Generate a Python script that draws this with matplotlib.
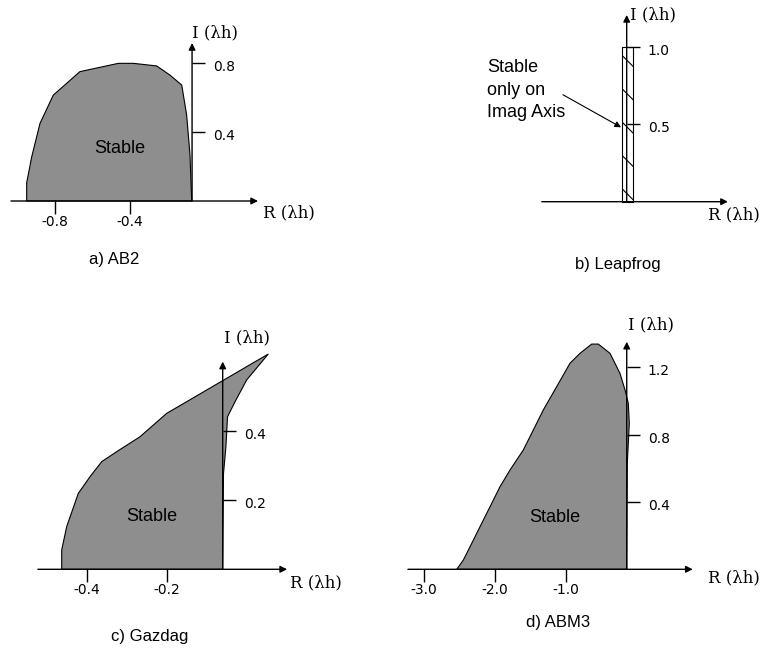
import matplotlib
matplotlib.use("Agg")
import matplotlib.pyplot as plt

plt.rcParams['font.family'] = ['Liberation Sans', 'DejaVu Sans']
plt.rcParams['hatch.linewidth'] = 0.8

W, H = 765, 651

# a) AB2 stability boundary (real, imag)
ab2_re = [-0.951, -0.951, -0.924, -0.88, -0.809, -0.667, -0.462, -0.382, -0.258,
          -0.187, -0.124, -0.098, -0.08, -0.071]
ab2_im = [0.0, 0.106, 0.257, 0.45, 0.614, 0.75, 0.798, 0.798, 0.783,
          0.73, 0.672, 0.499, 0.267, 0.0]
ab2_axis = -0.069
ab2_xticks = [-0.8, -0.4]
ab2_yticks = [0.4, 0.8]

# b) Leapfrog: stable only on imaginary axis
lf_band = [-0.025, 0.035]
lf_top = 1.0
lf_yticks = [0.5, 1.0]

# c) Gazdag
gz_re = [-0.4625, -0.4625, -0.45, -0.421, -0.392, -0.3625, -0.325, -0.267, -0.2,
         0.054, 0.0, -0.029, -0.048, -0.052, -0.058, -0.06]
gz_im = [0.0, 0.056, 0.124, 0.22, 0.268, 0.312, 0.341, 0.384, 0.452,
         0.624, 0.549, 0.486, 0.442, 0.355, 0.278, 0.0]
gz_axis = -0.06
gz_xticks = [-0.4, -0.2]
gz_yticks = [0.2, 0.4]

# d) ABM3
abm_re = [-2.535, -2.442, -2.348, -2.208, -2.067, -1.927, -1.787, -1.6, -1.459,
          -1.319, -1.131, -0.944, -0.803, -0.639, -0.546, -0.382, -0.242, -0.171,
          -0.125, -0.111, -0.139, -0.147]
abm_im = [0.0, 0.055, 0.134, 0.253, 0.372, 0.491, 0.59, 0.709, 0.828,
          0.947, 1.086, 1.225, 1.284, 1.339, 1.339, 1.284, 1.165, 1.066,
          0.987, 0.868, 0.63, 0.0]
abm_axis = -0.147
abm_xticks = [-3.0, -2.0, -1.0]
abm_yticks = [0.4, 0.8, 1.2]

FILL = '#8e8e8e'
SERIF = ['DejaVu Serif']
TICKFONT = ['DejaVu Sans']

fig = plt.figure(figsize=(W / 100, H / 100), dpi=100)


def make_axes(box, ox, sx, oy, sy):
    # box = (left, right, top, bottom) in pixels; origin/scale in pixels
    L, R, T, B = box
    ax = fig.add_axes([L / W, 1 - B / H, (R - L) / W, (B - T) / H])
    ax.set_xlim((L - ox) / sx, (R - ox) / sx)
    ax.set_ylim((oy - B) / sy, (oy - T) / sy)
    ax.axis('off')
    return ax


def arrow_axes(ax, xspan, xaxis, ytop):
    for start, end in [((xspan[0], 0), (xspan[1], 0)), ((xaxis, 0), (xaxis, ytop))]:
        ax.annotate('', xy=end, xytext=start,
                    arrowprops=dict(arrowstyle='-|>', color='black', lw=1,
                                    mutation_scale=10, shrinkA=0, shrinkB=0))


def ticks(ax, xaxis, xt, yt):
    if xt:
        ax.plot(xt, [0] * len(xt), ls='', marker=3, ms=9, mew=1, color='black')
        for v in xt:
            ax.annotate('{:.1f}'.format(v), (v, 0), xytext=(0, -21), textcoords='offset pixels',
                        ha='center', va='center', fontsize=10, family=TICKFONT)
    ax.plot([xaxis] * len(yt), yt, ls='', marker=1, ms=9, mew=1, color='black')
    for v in yt:
        ax.annotate('{:.1f}'.format(v), (xaxis, v), xytext=(21, -4), textcoords='offset pixels',
                    ha='left', va='center', fontsize=10, family=TICKFONT)


def labels(ax, ipos, rpos, caption, cap_xy):
    ax.text(ipos[0], ipos[1], 'I (λh)', ha='left', va='center', fontsize=12, family=SERIF)
    ax.text(rpos[0], rpos[1], 'R (λh)', ha='left', va='center', fontsize=12, family=SERIF)
    ax.text(cap_xy[0], cap_xy[1], caption, ha='center', va='center', fontsize=12)


# ---- a) AB2
ax = make_axes((0, 382, 0, 300), 205, 187.5, 201, 172.5)
ax.fill(ab2_re, ab2_im, facecolor=FILL, edgecolor='black', lw=0.8)
arrow_axes(ax, (-1.035, 0.283), ab2_axis, 0.916)
ticks(ax, ab2_axis, ab2_xticks, ab2_yticks)
labels(ax, (-0.069, 0.974), (0.309, -0.07), 'a) AB2', (-0.485, -0.342))
ax.text(-0.453, 0.307, 'Stable', ha='center', va='center', fontsize=13)

# ---- b) Leapfrog
ax = make_axes((383, 765, 0, 300), 626.7, 187.5, 201.7, 155)
ax.fill_between(lf_band, 0, lf_top, facecolor='white', edgecolor='black', lw=0.8, hatch='\\')
arrow_axes(ax, (-0.453, 0.54), 0.0, 1.205)
ticks(ax, 0.0, [], lf_yticks)
labels(ax, (0.018, 1.205), (0.434, -0.086), 'b) Leapfrog', (-0.046, -0.408))
ax.text(-0.745, 0.72, 'Stable\nonly on\nImag Axis', ha='left', va='center', fontsize=13,
        linespacing=1.4)
ax.annotate('', xy=(-0.03, 0.48), xytext=(-0.34, 0.69),
            arrowprops=dict(arrowstyle='-|>', color='black', lw=0.8, mutation_scale=9,
                            shrinkA=0, shrinkB=0))

# ---- c) Gazdag
ax = make_axes((0, 382, 320, 651), 246.7, 400, 569.3, 345)
ax.fill(gz_re, gz_im, facecolor=FILL, edgecolor='black', lw=0.8)
arrow_axes(ax, (-0.522, 0.101), gz_axis, 0.602)
ticks(ax, gz_axis, gz_xticks, gz_yticks)
labels(ax, (-0.057, 0.670), (0.108, -0.04), 'c) Gazdag', (-0.242, -0.196))
ax.text(-0.237, 0.152, 'Stable', ha='center', va='center', fontsize=13)

# ---- d) ABM3
ax = make_axes((383, 765, 320, 651), 637.2, 71.2, 569.3, 168.2)
ax.fill(abm_re, abm_im, facecolor=FILL, edgecolor='black', lw=0.8)
arrow_axes(ax, (-3.22, 0.78), abm_axis, 1.353)
ticks(ax, abm_axis, abm_xticks, abm_yticks)
labels(ax, (-0.129, 1.452), (0.994, -0.052), 'd) ABM3', (-1.112, -0.319))
ax.text(-1.154, 0.305, 'Stable', ha='center', va='center', fontsize=13)

fig.savefig('out.png', dpi=100)
